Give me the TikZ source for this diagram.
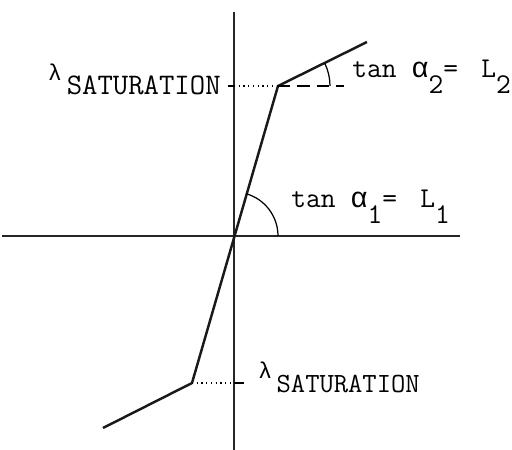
\documentclass[tikz,border=0pt]{standalone}
\usepackage{fontspec}
\newfontfamily\grk{Liberation Mono}
\usetikzlibrary{positioning}
\tikzset{
  axisline/.style={line width=1.1pt,draw=black!85},
  curve/.style={line width=1.4pt,draw=black!90,line join=round},
  guide/.style={dotted,line width=0.7pt},
  dashguide/.style={dash pattern=on 7pt off 4pt,line width=0.9pt},
  anglearc/.style={line width=0.7pt},
  tickmark/.style={line width=1pt},
  lbl/.style={inner sep=0pt,font=\ttfamily\fontsize{#1}{#1}\selectfont},
  lbl/.default=16.3
}
\newcommand{\lowsub}[1]{\raisebox{-9pt}{#1}}
\newcommand{\highlam}{\raisebox{8.5pt}{{\grk\fontsize{13}{13}\selectfont λ}}}
\newcommand{\alf}{{\grk α}}

\begin{document}
\begin{tikzpicture}[x=0.02cm,y=0.02cm]
  \useasboundingbox (-234,-214) rectangle (278,236);
  % axes
  \coordinate (O) at (0,0);
  \coordinate (ytop) at (0,224);
  \coordinate (ybot) at (0,-214);
  \coordinate (xleft) at (-232,0);
  \coordinate (xright) at (226,0);
  \draw[axisline] (xleft) -- (xright);
  \draw[axisline] (ytop) -- (ybot);
  % characteristic
  \coordinate (kneeup) at (44,150);
  \coordinate (kneelow) at (-42,-147);
  \coordinate (endup) at (133,194);
  \coordinate (endlow) at (-131,-192);
  \draw[curve] (endlow) -- (kneelow) -- (kneeup) -- (endup);
  % saturation levels
  \coordinate (tickup) at (-6,150);
  \coordinate (axup) at (0,150);
  \coordinate (ticklow) at (10,-147);
  \coordinate (axlow) at (0,-147);
  \coordinate (dashend) at (110,150);
  \draw[guide] (axup) -- (kneeup);
  \draw[tickmark] (tickup) -- (axup);
  \draw[guide] (kneelow) -- (axlow);
  \draw[tickmark] (axlow) -- (ticklow);
  \draw[dashguide] (kneeup) -- (dashend);
  % angles
  \draw[anglearc] ([shift={(0:44)}]O) arc[start angle=0,end angle=74,radius=44];
  \draw[anglearc] ([shift={(0:52)}]kneeup) arc[start angle=0,end angle=26,radius=52];
  % labels
  \node[lbl=17,anchor=base east] (satup) at (-13,141) {\highlam\,SATURATION};
  \node[lbl=15.8,anchor=base west] (satlow) at (24,-157) {\highlam\,SATURATION};
  \node[lbl,anchor=base west] (tanup) at (118,158) {tan \alf\lowsub{2}=\hspace{0.3em} L\lowsub{2}};
  \node[lbl,anchor=base west] (tanlow) at (57,28) {tan \alf\lowsub{1}=\hspace{0.3em} L\lowsub{1}};
\end{tikzpicture}
\end{document}
